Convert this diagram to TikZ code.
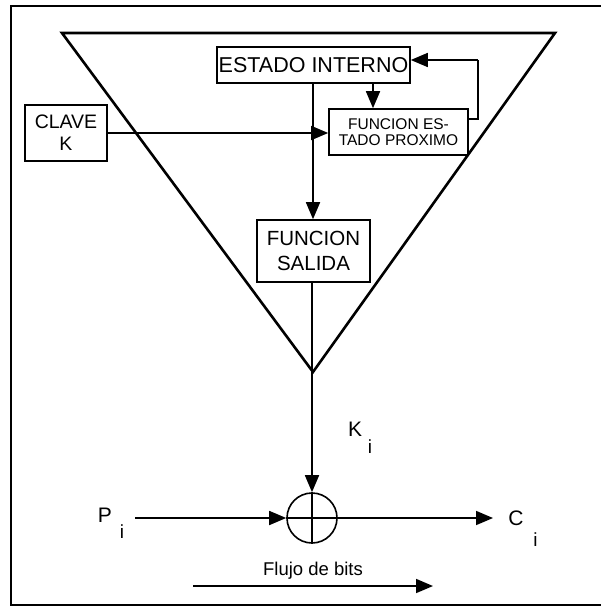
\documentclass[tikz,border=0pt]{standalone}
\usepackage{fontspec}
\setmainfont{Liberation Sans}
\usetikzlibrary{arrows.meta}
\begin{document}
\begin{tikzpicture}[x=1pt,y=-1pt,
  box/.style={draw,line width=1.6pt,inner sep=0pt,align=center},
  lbl/.style={inner sep=0pt},
  conn/.style={line width=1.7pt},
  arr/.style={conn,-{Triangle[length=17pt,width=14pt]}}]
\useasboundingbox (0,0) rectangle (601,607);
% frame
\draw[line width=1.3pt] (601,6) -- (11,6) -- (11,605) -- (601,605);
% triangle
\draw[line width=2.6pt,line join=miter] (62,33) -- (555,33) -- (313,372) -- cycle;
% boxes
\node[box,minimum width=193pt,minimum height=36pt,font=\fontsize{21.5}{24}\selectfont] (ei) at (313.5,65) {ESTADO INTERNO};
\node[box,minimum width=139pt,minimum height=46pt,font=\fontsize{15.5}{16}\selectfont] (fep) at (398.5,132) {FUNCION ES-\\TADO PROXIMO};
\node[box,minimum width=82pt,minimum height=56pt,font=\fontsize{19.5}{22}\selectfont] (clave) at (66,133) {CLAVE\\K};
\node[box,minimum width=113pt,minimum height=62pt,font=\fontsize{20.5}{25}\selectfont] (fs) at (313.5,251) {FUNCION\\SALIDA};
\node[draw,circle,line width=1.6pt,minimum size=50pt,inner sep=0pt] (xor) at (312,518) {};
\draw[conn] (xor.north) -- (xor.south) (xor.west) -- (xor.east);
% connectors
\coordinate (fb1) at (478,119);
\coordinate (fb2) at (478,60);
\draw[conn] (fep.east |- fb1) -- (fb1) -- (fb2);
\draw[arr] (fb2) -- (ei.east |- fb2);
\draw[arr] (ei.south -| 373,0) -- (fep.north -| 373,0);
\draw[arr] (clave.east) -- (fep.west |- clave.east);
\draw[arr] (ei.south -| 313,0) -- (fs.north -| 313,0);
\draw[arr] (fs.south -| 312,0) -- (xor.north);
% labels
\node[lbl,font=\fontsize{21}{24}\selectfont] (k) at (355,429) {K};
\node[lbl,font=\fontsize{19}{22}\selectfont] (ki) at (370,447) {i};
\node[lbl,font=\fontsize{21}{24}\selectfont] (p) at (105,515) {P};
\node[lbl,font=\fontsize{19}{22}\selectfont] (pi) at (122,532) {i};
\node[lbl,font=\fontsize{21}{24}\selectfont] (c) at (516,518) {C};
\node[lbl,font=\fontsize{19}{22}\selectfont] (ci) at (535.5,540) {i};
\coordinate (pin) at (135,518);
\coordinate (cout) at (493,518);
\draw[arr] (pin) -- (xor.west);
\draw[arr] (xor.east) -- (cout);
\node[lbl,font=\fontsize{18.5}{20}\selectfont] (flujo) at (313,571) {Flujo de bits};
\coordinate (fl1) at (193,586);
\coordinate (fl2) at (433,586);
\draw[arr] (fl1) -- (fl2);
\end{tikzpicture}
\end{document}
